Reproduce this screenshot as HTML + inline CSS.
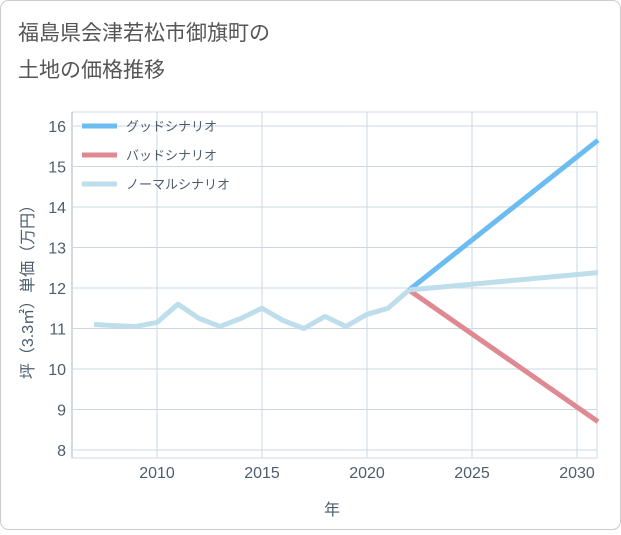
<!DOCTYPE html>
<html><head><meta charset="utf-8"><style>
body{margin:0;background:#fff}
#wrap{position:relative;width:621px;height:530px;font-family:"Liberation Sans","Noto Sans CJK JP",sans-serif}
</style></head><body>
<div id="wrap">
<svg id="chart" width="621" height="530">
<rect x="0.5" y="0.5" width="620" height="529" rx="8" fill="#fff" stroke="#ccc"/>
<text x="18" y="40" font-size="21" fill="#555" font-family="Liberation Sans,Noto Sans CJK JP,sans-serif">福島県会津若松市御旗町の</text>
<text x="18" y="77" font-size="21" fill="#555" font-family="Liberation Sans,Noto Sans CJK JP,sans-serif">土地の価格推移</text>
<g id="grid"></g><g id="series"></g><g id="legend"></g>
<text x="332" y="515" font-size="16" fill="#4e5d6c" text-anchor="middle" font-family="Liberation Sans,Noto Sans CJK JP,sans-serif">年</text>
<text transform="translate(33,288) rotate(-90)" font-size="16" fill="#4e5d6c" text-anchor="middle" font-family="Liberation Sans,Noto Sans CJK JP,sans-serif">坪（3.3㎡）単価（万円）</text>
</svg></div>
<script>
const years=[2007,2008,2009,2010,2011,2012,2013,2014,2015,2016,2017,2018,2019,2020,2021,2022];
const normalHist=[11.1,11.07,11.05,11.15,11.6,11.25,11.05,11.25,11.5,11.2,11.0,11.3,11.05,11.35,11.5,11.95];
const projYears=[2022,2031];
const goodVals=[11.95,15.65];
const badVals=[11.95,8.7];
const normalProj=[11.95,12.38];
const yTicks=[8,9,10,11,12,13,14,15,16];
const xTicks=[2010,2015,2020,2025,2030];
const NS="http://www.w3.org/2000/svg";
const X0=72,X1=597,Y0=112,Y1=458;
const xs=y=>157+(y-2010)*21;
const ys=v=>450-(v-8)*40.5;
function mk(tag,attrs,parent){const e=document.createElementNS(NS,tag);for(const k in attrs)e.setAttribute(k,attrs[k]);parent.appendChild(e);return e;}
const grid=document.getElementById('grid');
const frame=mk('rect',{x:X0,y:Y0,width:X1-X0,height:Y1-Y0,fill:'none',stroke:'#ccd9e3'},grid);


const axis=mk('line',{x1:X0,x2:X0,y1:Y0,y2:Y1,stroke:'#aab4bd'},grid);


yTicks.forEach(v=>{
 const l=mk('line',{x1:X0,x2:X1,y1:ys(v),y2:ys(v),stroke:'#c9d8e4'},grid);
 
 
 const t=mk('text',{x:66,y:ys(v)+6,'font-size':16,fill:'#4e5d6c','text-anchor':'end'},grid);
 t.textContent=v;
 
 
});
xTicks.forEach(v=>{
 const l=mk('line',{x1:xs(v),x2:xs(v),y1:Y0,y2:Y1,stroke:'#c9d8e4'},grid);
 
 
 const t=mk('text',{x:xs(v),y:478,'font-size':16,fill:'#4e5d6c','text-anchor':'middle'},grid);
 t.textContent=v;
 
 
});
const ser=document.getElementById('series');
function line(xv,yv,color,name){
 const p=mk('polyline',{points:xv.map((x,i)=>xs(x)+','+ys(yv[i])).join(' '),fill:'none',stroke:color,'stroke-width':5,'stroke-linejoin':'round'},ser);
 
 
}
line(projYears,goodVals,'#6bbcf0','good-scenario-line');
line(projYears,badVals,'#dd8a92','bad-scenario-line');
line(projYears,normalProj,'#bfdeec','normal-scenario-line');
line(years,normalHist,'#bfdeec','historical-price-line');
const leg=document.getElementById('legend');
[['グッドシナリオ','#6bbcf0',126],['バッドシナリオ','#dd8a92',155],['ノーマルシナリオ','#bfdeec',184]].forEach(([n,c,y])=>{
 const l=mk('line',{x1:82,x2:117,y1:y,y2:y,stroke:c,'stroke-width':5},leg);
 
 
 const t=mk('text',{x:126,y:y+5,'font-size':13,fill:'#4e5d6c'},leg);
 t.textContent=n;
 
 
});
</script>
</body></html>
